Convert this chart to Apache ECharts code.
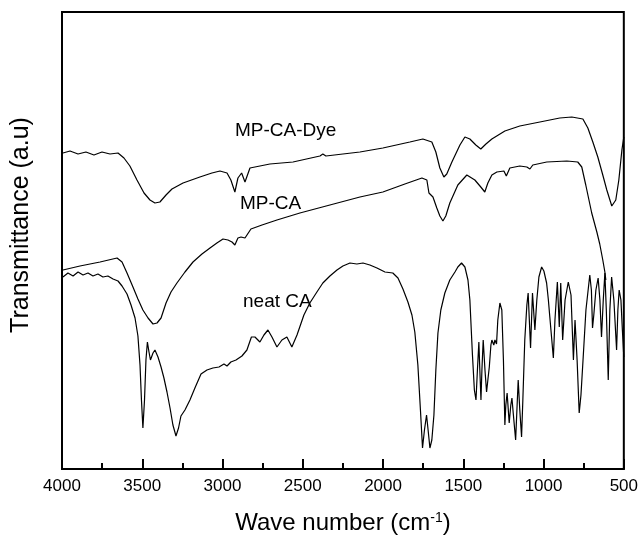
<!DOCTYPE html>
<html>
<head>
<meta charset="utf-8">
<script src="https://cdn.jsdelivr.net/npm/echarts@6/dist/echarts.min.js"></script>
<style>html,body{margin:0;padding:0;background:#fff;}#c{width:641px;height:538px;}</style>
</head>
<body>
<div id="c"></div>
<script>
// x tick labels (reversed wavenumber axis)
const xTicks = [4000, 3500, 3000, 2500, 2000, 1500, 1000, 500];

// MP-CA-Dye spectrum (wavenumber, transmittance in arbitrary units)
const dyeWave = [3994,3950,3900,3851,3801,3751,3701,3651,3614,3577,3533,3489,3452,3421,3390,3352,3315,3246,3141,3066,3016,2972,2948,2923,2904,2881,2860,2829,2705,2561,2393,2375,2356,2144,2001,1833,1752,1696,1671,1646,1621,1603,1571,1521,1490,1459,1422,1391,1359,1322,1241,1148,1023,899,824,755,724,693,662,631,606,575,550,531,512,500];
const dyeT = [316,318,315,317,314,317,315,316,311,303,289,276,269,266,267,274,280,286,292,296,298,296,289,277,291,296,287,301,305,307,313,315,313,317,321,327,330,327,317,301,292,295,307,324,332,330,324,320,325,330,338,343,347,351,352,350,341,327,312,294,279,263,269,289,319,332];

// MP-CA spectrum
const mpcaWave = [3994,3888,3763,3657,3626,3595,3558,3527,3496,3464,3433,3408,3383,3352,3321,3284,3234,3184,3128,3078,3035,2997,2966,2941,2923,2904,2885,2860,2823,2754,2661,2518,2331,2144,2001,1864,1758,1727,1714,1702,1689,1665,1646,1627,1609,1584,1534,1478,1428,1391,1366,1347,1322,1291,1247,1232,1210,1148,1104,1085,1067,980,855,787,762,737,700,668,650,631,618,612];
const mpcaT = [199,203,207,211,207,196,182,170,159,151,145,146,151,166,177,186,197,207,215,221,226,230,229,227,224,231,232,231,240,244,249,256,264,272,277,285,291,289,276,274,272,261,253,248,253,266,284,294,289,282,277,286,294,297,298,293,301,303,302,300,304,307,308,307,302,284,256,237,225,209,197,189];

// neat CA spectrum
const neatWave = [3994,3963,3931,3900,3869,3838,3807,3776,3745,3714,
3682,3651,3626,3595,3570,3545,3527,3514,3505,3496,
3486,3477,3468,3458,3449,3433,3421,3402,3383,3365,
3346,3327,3309,3290,3274,3259,3234,3203,3172,3134,
3097,3060,3022,2991,2972,2948,2916,2879,2848,2820,
2798,2767,2742,2717,2692,2661,2630,2599,2568,2536,
2493,2456,2412,2375,2331,2287,2250,2206,2163,2125,
2082,2038,1988,1939,1907,1876,1845,1820,1802,1783,
1767,1754,1742,1729,1718,1708,1696,1683,1671,1658,
1640,1615,1584,1552,1534,1511,1490,1471,1459,1443,
1431,1421,1412,1403,1397,1390,1384,1376,1365,1355,
1347,1338,1328,1322,1310,1303,1293,1285,1272,1260,
1250,1241,1235,1227,1214,1204,1197,1189,1174,1166,
1158,1148,1137,1129,1117,1104,1096,1081,1069,1054,
1042,1029,1012,998,981,970,961,951,939,929,
914,902,893,881,866,846,829,814,804,791,
778,767,753,736,712,702,695,687,674,660,
649,639,628,618,609,597,587,576,562,545,
537,529,518,509,500];
const neatT = [192,196,193,197,194,196,193,195,192,193,
190,188,183,175,164,151,133,104,69,41,
69,109,127,117,109,116,119,112,102,91,
77,61,44,33,41,53,59,69,81,95,
99,101,102,105,103,107,109,113,119,132,
132,127,134,139,132,122,129,132,122,134,
154,166,177,186,193,199,203,206,205,206,
204,201,197,196,191,180,167,154,137,104,
59,21,39,54,37,21,29,54,99,136,
159,176,189,197,202,206,202,189,169,114,
79,69,99,127,99,69,99,129,99,77,
89,102,124,129,124,129,125,149,166,159,
109,44,64,76,46,64,71,56,29,59,
89,59,32,69,129,164,176,121,176,139,
169,192,202,198,186,169,152,154,111,149,
187,142,186,129,169,187,174,109,149,109,
56,74,112,159,194,179,141,154,179,191,
169,132,169,196,159,89,159,192,169,119,
159,179,169,139,112];

const seriesNames = ['MP-CA-Dye', 'MP-CA', 'neat CA'];

function zip(a, b) { return a.map((v, i) => [v, b[i]]); }

const chart = echarts.init(document.getElementById('c'), null, {renderer: 'canvas'});
const FONT = 'Liberation Sans, Arial, sans-serif';
const lineStyle = {color: '#000', width: 1.2};

chart.setOption({
  animation: false,
  backgroundColor: '#fff',
  grid: {left: 62, right: 17, top: 12, bottom: 69, show: true, borderColor: '#000', borderWidth: 2, backgroundColor: 'transparent'},
  xAxis: {
    type: 'value', inverse: true, min: 500, max: 4000, interval: 500,
    axisLine: {show: true, lineStyle: {color: '#000', width: 2}},
    axisTick: {show: true, inside: true, length: 10, lineStyle: {color: '#000', width: 2}},
    minorTick: {show: true, splitNumber: 2, length: 6, lineStyle: {color: '#000', width: 2}},
    splitLine: {show: false},
    axisLabel: {color: '#000', fontSize: 17, fontFamily: FONT, margin: 9,
      formatter: v => xTicks.indexOf(v) >= 0 ? String(v) : ''}
  },
  yAxis: {
    type: 'value', min: 0, max: 457,
    axisLine: {show: true, lineStyle: {color: '#000', width: 2}},
    axisTick: {show: false}, axisLabel: {show: false}, splitLine: {show: false}
  },
  series: [
    {name: seriesNames[0], type: 'line', data: zip(dyeWave, dyeT), showSymbol: false, lineStyle: lineStyle, z: 3},
    {name: seriesNames[1], type: 'line', data: zip(mpcaWave, mpcaT), showSymbol: false, lineStyle: lineStyle, z: 3},
    {name: seriesNames[2], type: 'line', data: zip(neatWave, neatT), showSymbol: false, lineStyle: lineStyle, z: 3}
  ],
  graphic: [
    {type: 'text', x: 235, y: 131, style: {text: seriesNames[0], fill: '#000', font: '19px ' + FONT, textAlign: 'left', textVerticalAlign: 'middle'}},
    {type: 'text', x: 240, y: 204, style: {text: seriesNames[1], fill: '#000', font: '19px ' + FONT, textAlign: 'left', textVerticalAlign: 'middle'}},
    {type: 'text', x: 243, y: 302, style: {text: seriesNames[2], fill: '#000', font: '19px ' + FONT, textAlign: 'left', textVerticalAlign: 'middle'}},
    {type: 'text', x: 343, y: 523, style: {text: 'Wave number (cm{sup|-1})', fill: '#000', fontSize: 24, fontFamily: FONT, textAlign: 'center', textVerticalAlign: 'middle',
      rich: {sup: {fontSize: 14, fontFamily: FONT, fill: '#000', verticalAlign: 'top'}}}},
    {type: 'text', x: 21, y: 225, rotation: Math.PI / 2, style: {text: 'Transmittance (a.u)', fill: '#000', fontSize: 25, fontFamily: FONT, textAlign: 'center', textVerticalAlign: 'middle'}}
  ]
});
</script>
</body>
</html>
